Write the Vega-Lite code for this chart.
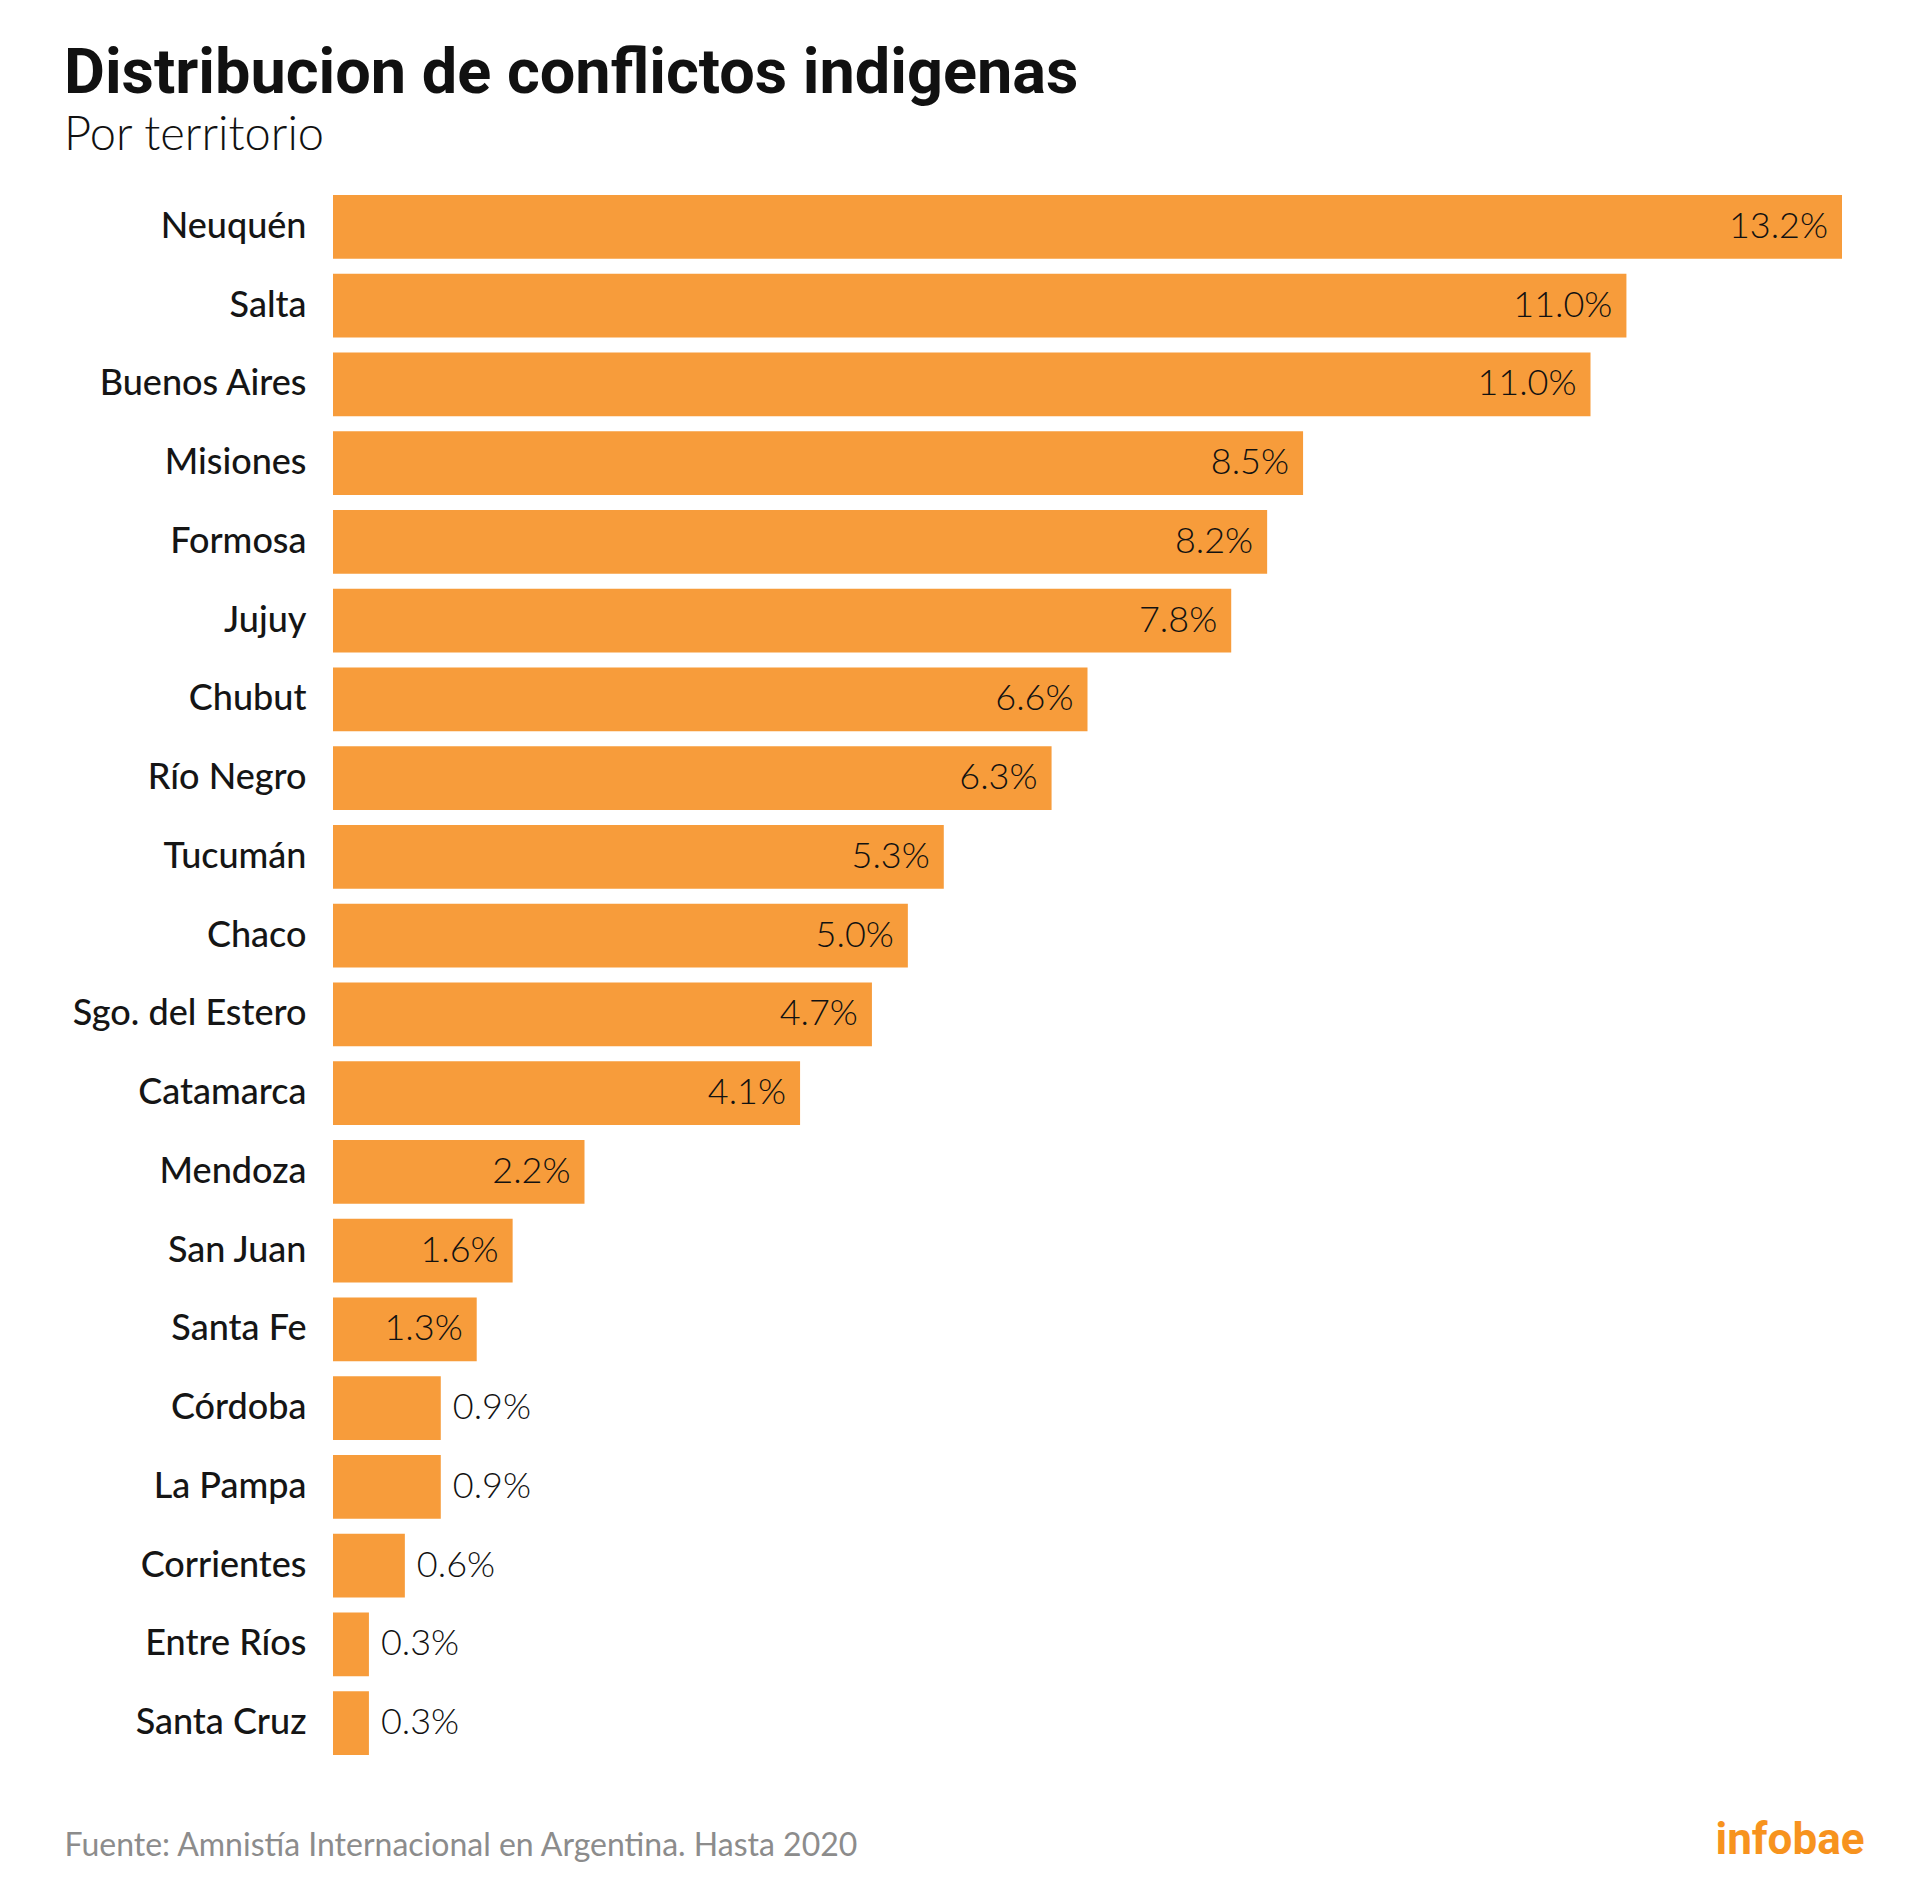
{
  "$schema": "https://vega.github.io/schema/vega-lite/v6.json",
  "autosize": "none",
  "width": 1509,
  "height": 1560,
  "padding": {"left": 333, "top": 195, "right": 78, "bottom": 133},
  "background": "#ffffff",
  "title": {
    "text": "Distribucion de conflictos indigenas",
    "subtitle": "Por territorio",
    "anchor": "start",
    "frame": "group",
    "dx": -269,
    "offset": 36,
    "font": "Roboto",
    "fontSize": 63,
    "fontWeight": 700,
    "color": "#111111",
    "subtitleFont": "Lato",
    "subtitleFontSize": 47,
    "subtitleFontWeight": 300,
    "subtitleColor": "#111111",
    "subtitlePadding": 7
  },
  "data": {
    "values": [
      {"territorio": "Neuquén", "conflictos": 42, "porcentaje": "13.2%"},
      {"territorio": "Salta", "conflictos": 36, "porcentaje": "11.0%"},
      {"territorio": "Buenos Aires", "conflictos": 35, "porcentaje": "11.0%"},
      {"territorio": "Misiones", "conflictos": 27, "porcentaje": "8.5%"},
      {"territorio": "Formosa", "conflictos": 26, "porcentaje": "8.2%"},
      {"territorio": "Jujuy", "conflictos": 25, "porcentaje": "7.8%"},
      {"territorio": "Chubut", "conflictos": 21, "porcentaje": "6.6%"},
      {"territorio": "Río Negro", "conflictos": 20, "porcentaje": "6.3%"},
      {"territorio": "Tucumán", "conflictos": 17, "porcentaje": "5.3%"},
      {"territorio": "Chaco", "conflictos": 16, "porcentaje": "5.0%"},
      {"territorio": "Sgo. del Estero", "conflictos": 15, "porcentaje": "4.7%"},
      {"territorio": "Catamarca", "conflictos": 13, "porcentaje": "4.1%"},
      {"territorio": "Mendoza", "conflictos": 7, "porcentaje": "2.2%"},
      {"territorio": "San Juan", "conflictos": 5, "porcentaje": "1.6%"},
      {"territorio": "Santa Fe", "conflictos": 4, "porcentaje": "1.3%"},
      {"territorio": "Córdoba", "conflictos": 3, "porcentaje": "0.9%"},
      {"territorio": "La Pampa", "conflictos": 3, "porcentaje": "0.9%"},
      {"territorio": "Corrientes", "conflictos": 2, "porcentaje": "0.6%"},
      {"territorio": "Entre Ríos", "conflictos": 1, "porcentaje": "0.3%"},
      {"territorio": "Santa Cruz", "conflictos": 1, "porcentaje": "0.3%"}
    ]
  },
  "encoding": {
    "y": {
      "field": "territorio",
      "type": "nominal",
      "sort": null,
      "scale": {"paddingInner": 0.19, "paddingOuter": 0},
      "axis": {
        "title": null,
        "domain": false,
        "ticks": false,
        "labelPadding": 27,
        "labelFont": "Lato",
        "labelFontSize": 36,
        "labelFontWeight": 500,
        "labelColor": "#151515",
        "labelLimit": 400
      }
    }
  },
  "layer": [
    {
      "mark": {"type": "bar", "color": "#f79c3b"},
      "encoding": {
        "x": {
          "field": "conflictos",
          "type": "quantitative",
          "scale": {"domain": [0, 42], "nice": false},
          "axis": {
            "orient": "bottom",
            "labels": false,
            "ticks": false,
            "domain": false,
            "grid": false,
            "title": "Fuente: Amnistía Internacional en Argentina. Hasta 2020",
            "titleX": -269,
            "titleY": 100,
            "titleAlign": "left",
            "titleAnchor": null,
            "titleBaseline": "alphabetic",
            "titleFont": "Lato",
            "titleFontSize": 32,
            "titleFontWeight": 400,
            "titleColor": "#8c8c8c"
          }
        }
      }
    },
    {
      "transform": [{"filter": "datum.conflictos >= 4"}],
      "mark": {"type": "text", "align": "right", "baseline": "middle", "dx": -14, "font": "Lato", "fontSize": 36, "fontWeight": 300, "color": "#111111"},
      "encoding": {
        "x": {
          "field": "conflictos",
          "type": "quantitative",
          "axis": {
            "orient": "bottom",
            "labels": false,
            "ticks": false,
            "domain": false,
            "grid": false,
            "title": "infobae",
            "titleX": 1531,
            "titleY": 98,
            "titleAlign": "right",
            "titleAnchor": null,
            "titleBaseline": "alphabetic",
            "titleFont": "Roboto",
            "titleFontSize": 44,
            "titleFontWeight": 700,
            "titleColor": "#f7931e"
          }
        },
        "text": {"field": "porcentaje", "type": "nominal"}
      }
    },
    {
      "transform": [{"filter": "datum.conflictos < 4"}],
      "mark": {"type": "text", "align": "left", "baseline": "middle", "dx": 12, "font": "Lato", "fontSize": 36, "fontWeight": 300, "color": "#111111"},
      "encoding": {
        "x": {"field": "conflictos", "type": "quantitative", "axis": null},
        "text": {"field": "porcentaje", "type": "nominal"}
      }
    }
  ],
  "resolve": {"axis": {"x": "independent"}},
  "config": {"view": {"stroke": null}}
}
